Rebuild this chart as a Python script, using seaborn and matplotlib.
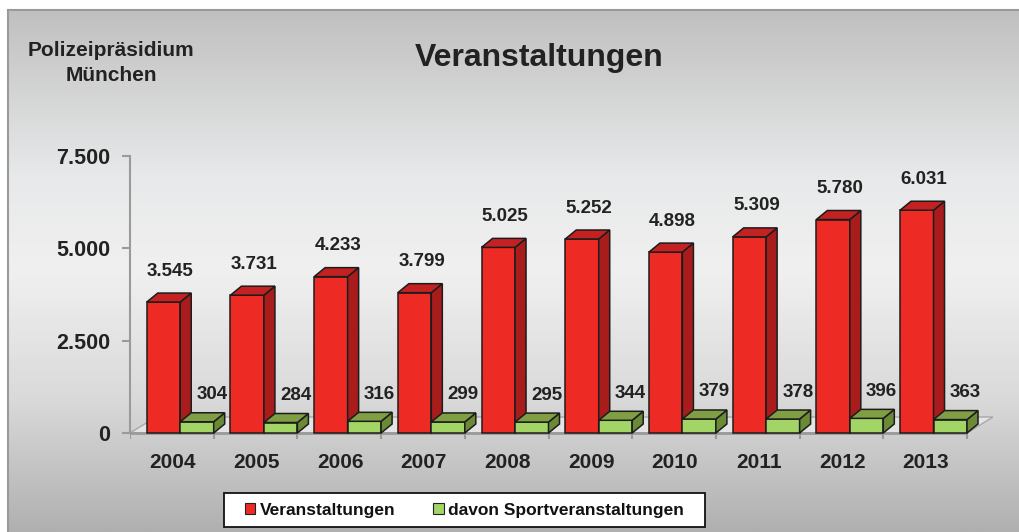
import numpy as np
import pandas as pd
import matplotlib
matplotlib.use("Agg")
import matplotlib.pyplot as plt
from matplotlib.patches import Polygon, Rectangle
from matplotlib.colors import LinearSegmentedColormap
import seaborn as sns

# ---- data ----
years = ["2004", "2005", "2006", "2007", "2008", "2009", "2010", "2011", "2012", "2013"]
veranstaltungen = [3545, 3731, 4233, 3799, 5025, 5252, 4898, 5309, 5780, 6031]
sport = [304, 284, 316, 299, 295, 344, 379, 378, 396, 363]
series_names = ["Veranstaltungen", "davon Sportveranstaltungen"]
y_ticks = [0, 2500, 5000, 7500]
title = "Veranstaltungen"
corner_text = "Polizeipräsidium\nMünchen"

df = pd.DataFrame({
    "Jahr": years * 2,
    "Anzahl": veranstaltungen + sport,
    "Reihe": [series_names[0]] * len(years) + [series_names[1]] * len(years),
})

sns.set_theme(style="white")
plt.rcParams["font.family"] = ["Liberation Sans", "DejaVu Sans"]
plt.rcParams["font.weight"] = "bold"

W, H = 1019, 532
fig = plt.figure(figsize=(W / 100, H / 100), dpi=100, facecolor="white")

def fbox(x0, y0, x1, y1):
    """pixel box (top-left origin) -> figure fraction rect"""
    return [x0 / W, 1 - y1 / H, (x1 - x0) / W, (y1 - y0) / H]

# ---- panel background with vertical gray gradient ----
bg = fig.add_axes(fbox(8, 10, W, H), zorder=0)
stops = [(0.0, "#c0c0c0"), (0.32, "#e8e9ea"), (0.5, "#f0f0f0"),
         (0.75, "#d9d9d9"), (1.0, "#b0b0b0")]
cmap = LinearSegmentedColormap.from_list("panel", stops)
grad = np.linspace(0, 1, 256).reshape(-1, 1)
bg.imshow(grad, aspect="auto", cmap=cmap, extent=[0, 1, 0, 1], origin="upper")
bg.set_xlim(0, 1)
bg.set_ylim(0, 1)
bg.set_xticks([])
bg.set_yticks([])
for side, sp in bg.spines.items():
    sp.set_visible(side in ("left", "top"))
    sp.set_color("#9a9a9a")
    sp.set_linewidth(1.5)

# ---- main plotting axes ----
ax = fig.add_axes(fbox(130, 120, 1005, 445), zorder=2)
ax.patch.set_alpha(0)

red_front, red_side, red_top = "#ee2a24", "#a81c1c", "#c42222"
grn_front, grn_side, grn_top = "#a3d466", "#6a8a36", "#809f45"
edge = "#1c1c1c"

sns.barplot(data=df, x="Jahr", y="Anzahl", hue="Reihe",
            palette=[red_front, grn_front], width=0.8, saturation=1,
            edgecolor=edge, linewidth=1.1, legend=False, ax=ax)

x_left = -0.60
x_right = x_left + (1005 - 130) / 83.7
y_bottom, y_top = -325, 8474
ax.set_xlim(x_left, x_right)
ax.set_ylim(y_bottom, y_top)

# pixel -> data scale factors
sx = (x_right - x_left) / (1005 - 130)
sy = (y_top - y_bottom) / (445 - 120)

# ---- floor ----
n = len(years)
floor_x0 = x_left
floor_x1 = x_left + n * 83.7 * sx
fdx, fdy = 26 * sx, 16 * sy
floor = Polygon([(floor_x0, 0), (floor_x1, 0), (floor_x1 + fdx, fdy), (floor_x0 + fdx, fdy)],
                closed=True, facecolor="#e4e4e4", edgecolor="#a8a8a8", linewidth=1.0, zorder=1)
ax.add_patch(floor)
ax.plot([floor_x0, floor_x1], [0, 0], color="#9a9a9a", linewidth=2.0, zorder=1.5,
        solid_capstyle="butt")
bounds = [x_left + k * 83.7 * sx for k in range(n + 1)]
ax.vlines(bounds, -6 * sy, 0, color="#9a9a9a", linewidth=1.5, zorder=1.5)

# ---- 3D side and top faces for every bar ----
bdx, bdy = 11 * sx, 9 * sy
face_sets = [(red_side, red_top, 3), (grn_side, grn_top, 4)]
for container, (c_side, c_top, z) in zip(ax.containers, face_sets):
    for bar in container:
        bar.set_zorder(z)
        x0, w, h = bar.get_x(), bar.get_width(), bar.get_height()
        x1 = x0 + w
        side = Polygon([(x1, 0), (x1 + bdx, bdy), (x1 + bdx, h + bdy), (x1, h)],
                       closed=True, facecolor=c_side, edgecolor=edge, linewidth=1.1, zorder=z)
        top = Polygon([(x0, h), (x1, h), (x1 + bdx, h + bdy), (x0 + bdx, h + bdy)],
                      closed=True, facecolor=c_top, edgecolor=edge, linewidth=1.1, zorder=z)
        ax.add_patch(side)
        ax.add_patch(top)

# ---- value labels ----
def fmt(v):
    return f"{v:,}".replace(",", ".")

label_offsets = [(7, 31), (15, 27)]
for container, (ox, oy) in zip(ax.containers, label_offsets):
    for bar in container:
        v = bar.get_height()
        ax.annotate(fmt(int(round(v))), (bar.get_x() + bar.get_width() / 2, v),
                    xytext=(ox, oy), textcoords="offset pixels",
                    ha="center", va="center", fontsize=13.5, fontweight="bold",
                    color="#222222", zorder=6)

# ---- axes, ticks ----
for side, sp in ax.spines.items():
    sp.set_visible(side == "left")
ax.spines["left"].set_color("#9a9a9a")
ax.spines["left"].set_linewidth(1.5)
ax.spines["left"].set_bounds(0, 7500)
ax.set_yticks(y_ticks)
ax.set_yticklabels([fmt(t) for t in y_ticks])
ax.tick_params(axis="y", length=6, width=1.5, color="#9a9a9a", pad=8,
               labelsize=15.5, labelcolor="#222222", left=True)
ax.set_xticks(np.arange(n) - 0.09)
ax.set_xticklabels(years)
ax.tick_params(axis="x", length=0, pad=6, labelsize=15, labelcolor="#222222")
for lab in ax.get_xticklabels() + ax.get_yticklabels():
    lab.set_fontweight("bold")
ax.set_xlabel("")
ax.set_ylabel("")

# ---- titles ----
fig.text(539 / W, 1 - 58 / H, title, ha="center", va="center",
         fontsize=23, fontweight="bold", color="#222222")
fig.text(111 / W, 1 - 63 / H, corner_text, ha="center", va="center",
         fontsize=15, fontweight="bold", color="#222222", linespacing=1.35)

# ---- legend in a white box ----
box = fbox(224, 493, 705, 527)
fig.patches.append(Rectangle((box[0], box[1]), box[2], box[3], transform=fig.transFigure,
                             facecolor="white", edgecolor="#111111", linewidth=1.3, zorder=5))
handles = [Rectangle((0, 0), 1, 1, facecolor=c, edgecolor="#222222", linewidth=0.8)
           for c in (red_front, grn_front)]
leg = fig.legend(handles, series_names, loc="center",
                 bbox_to_anchor=(box[0] + box[2] / 2, box[1] + box[3] / 2),
                 ncol=2, frameon=False, handlelength=0.6, handleheight=0.6,
                 handletextpad=0.25, columnspacing=2.2,
                 prop={"weight": "bold", "size": 12.5})
leg.set_zorder(6)
for t in leg.get_texts():
    t.set_color("#111111")

fig.savefig("out.png", dpi=100, facecolor="white")
